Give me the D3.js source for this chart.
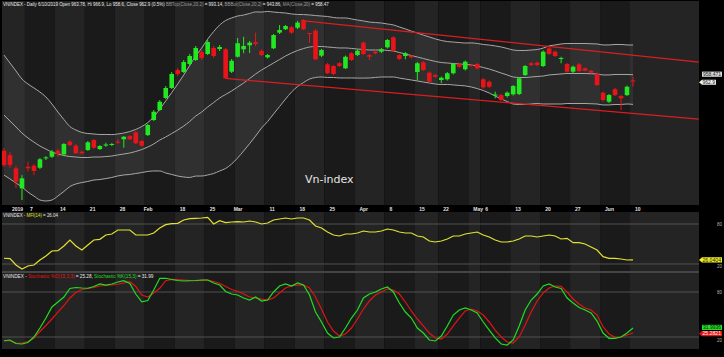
<!DOCTYPE html>
<html><head><meta charset="utf-8">
<script src="https://cdn.jsdelivr.net/npm/d3@7"></script>
<style>body{margin:0;background:#000}svg{display:block}</style>
</head><body><svg id="c" width="724" height="357"></svg>
<script>
const dates = ["2018-12-31","2019-01-02","2019-01-03","2019-01-04","2019-01-07","2019-01-08","2019-01-09","2019-01-10","2019-01-11","2019-01-14","2019-01-15","2019-01-16","2019-01-17","2019-01-18","2019-01-21","2019-01-22","2019-01-23","2019-01-24","2019-01-25","2019-01-28","2019-01-29","2019-01-30","2019-01-31","2019-02-01","2019-02-11","2019-02-12","2019-02-13","2019-02-14","2019-02-15","2019-02-18","2019-02-19","2019-02-20","2019-02-21","2019-02-22","2019-02-25","2019-02-26","2019-02-27","2019-02-28","2019-03-01","2019-03-04","2019-03-05","2019-03-06","2019-03-07","2019-03-08","2019-03-11","2019-03-12","2019-03-13","2019-03-14","2019-03-15","2019-03-18","2019-03-19","2019-03-20","2019-03-21","2019-03-22","2019-03-25","2019-03-26","2019-03-27","2019-03-28","2019-03-29","2019-04-01","2019-04-02","2019-04-03","2019-04-04","2019-04-05","2019-04-08","2019-04-09","2019-04-10","2019-04-11","2019-04-12","2019-04-16","2019-04-17","2019-04-18","2019-04-19","2019-04-22","2019-04-23","2019-04-24","2019-04-25","2019-04-26","2019-05-02","2019-05-03","2019-05-06","2019-05-07","2019-05-08","2019-05-09","2019-05-10","2019-05-13","2019-05-14","2019-05-15","2019-05-16","2019-05-17","2019-05-20","2019-05-21","2019-05-22","2019-05-23","2019-05-24","2019-05-27","2019-05-28","2019-05-29","2019-05-30","2019-05-31","2019-06-03","2019-06-04","2019-06-05","2019-06-06","2019-06-07","2019-06-10"];

const open = [905.4,901.8,890.8,874.2,892.1,893.0,891.3,899.1,900.4,905.4,
902.4,912.9,909.6,904.6,906.0,914.3,906.8,909.7,910.4,912.9,
914.9,917.6,920.7,913.5,918.4,930.9,939.2,949.2,957.5,972.4,
970.7,977.4,980.7,987.3,985.7,990.7,989.8,989.6,971.0,983.4,
989.6,992.9,995.4,988.2,982.9,990.4,1003.4,1006.2,1007.8,1007.5,
1013.9,1003.1,1005.0,984.3,977.1,975.7,978.0,973.8,986.3,984.8,
995.1,984.8,987.6,987.6,991.2,999.5,984.8,984.0,984.3,970.7,
978.8,970.2,968.2,964.1,964.7,969.7,977.4,973.0,976.5,977.4,
964.7,962.7,951.2,951.6,950.8,952.2,952.5,968.2,978.0,978.5,
975.7,990.4,987.6,981.8,977.4,971.0,977.1,973.8,971.8,969.1,
953.6,946.1,956.4,950.8,951.6,963.78];
const high = [907.7,904.3,892.7,885.2,896.3,894.4,899.4,901.0,906.0,906.8,
911.8,914.3,911.0,905.6,913.5,915.1,910.1,912.1,911.8,914.9,
917.6,918.4,921.8,914.3,927.6,939.2,947.5,959.1,970.7,974.1,
980.7,985.7,992.3,989.0,997.3,992.3,993.1,990.7,981.5,999.0,
1000.0,996.5,1003.4,989.8,985.7,1002.3,1009.7,1009.7,1008.9,1013.1,
1014.7,1003.3,1006.4,989.8,978.2,976.5,979.0,984.4,987.3,989.4,
996.1,985.7,988.6,990.7,998.1,1000.6,985.7,987.3,984.8,979.0,
979.9,971.2,969.1,967.0,970.7,978.2,978.2,980.3,977.4,978.2,
965.8,963.7,954.4,952.5,954.6,959.9,966.6,976.5,979.0,979.5,
988.6,991.5,988.6,983.4,978.2,976.1,978.2,974.5,972.4,970.3,
954.6,952.5,957.5,951.6,959.5,966.9];
const low = [891.9,891.1,874.5,864.5,888.0,885.2,890.2,897.7,899.4,900.4,
901.0,909.3,902.7,902.3,905.2,906.8,906.0,908.7,909.3,911.2,
907.9,914.3,911.0,908.5,917.6,930.1,938.4,948.3,956.6,967.4,
969.9,975.7,979.9,980.7,984.8,982.4,988.2,964.9,969.9,982.8,
986.3,986.5,992.3,984.0,981.9,989.8,1002.3,1005.6,1002.3,1006.4,
1005.6,994.8,980.7,983.2,969.1,968.2,974.9,973.2,979.9,984.0,
984.8,980.7,985.3,986.5,990.2,987.3,980.7,981.3,981.9,963.7,
971.6,961.6,965.8,961.4,963.7,968.7,974.1,972.0,974.9,972.8,
957.0,957.5,948.9,946.7,949.6,951.2,951.6,967.4,975.7,975.7,
974.9,984.8,983.2,978.0,970.2,969.9,970.7,971.2,969.5,959.1,
946.3,945.0,950.8,939.2,950.8,958.6];
const close = [893.5,893.5,879.7,882.5,890.8,888.6,898.3,899.9,904.6,902.7,
911.0,910.1,903.3,903.3,912.4,907.9,909.3,910.6,911.0,912.1,
917.0,914.9,911.6,909.6,926.7,937.8,946.1,957.5,969.1,969.1,
979.0,984.0,990.7,982.4,995.6,984.0,991.5,965.5,980.1,994.6,
992.3,995.1,994.0,984.8,984.8,1001.4,1005.6,1008.9,1003.4,1011.7,
1006.2,1002.3,981.3,989.0,969.7,969.1,975.7,983.4,980.7,988.4,
985.7,983.4,986.3,989.6,997.3,988.4,981.5,986.3,982.9,978.0,
972.4,962.7,966.8,966.0,969.7,977.4,975.1,979.3,975.7,973.8,
958.0,958.5,952.1,947.5,953.6,959.1,965.5,975.7,976.5,976.5,
987.6,985.7,984.0,982.4,971.0,975.1,971.6,971.8,970.2,959.9,
947.5,951.6,951.6,948.9,958.5,962.9];

const bbTop = [984.8,978.2,971.6,964.9,960.8,957.5,954.1,950.0,944.2,937.5,
931.3,925.5,922.6,920.6,919.7,919.3,918.9,918.9,918.8,919.3,
920.1,921.3,923.1,925.5,928.8,933.4,940.0,946.7,953.7,960.8,
968.2,976.2,984.0,990.6,998.1,1004.3,1009.8,1013.5,1015.6,1017.2,
1018.0,1019.3,1020.6,1020.5,1021.0,1020.5,1020.1,1019.7,1018.9,1018.5,
1018.4,1018.1,1017.6,1017.2,1016.8,1016.0,1015.6,1015.6,1014.8,1013.9,
1013.1,1012.2,1011.8,1011.4,1010.6,1009.8,1008.1,1006.5,1004.7,1003.1,
1001.4,999.8,998.2,996.9,996.0,995.6,995.2,994.8,994.9,994.4,
993.6,993.1,992.4,991.5,990.3,989.0,988.6,988.6,989.0,989.4,
990.6,992.4,993.2,994.0,994.4,994.4,994.4,994.4,994.2,994.0,
993.2,993.2,993.6,993.6,993.2,993.14];
const bbMid = [935.0,930.1,925.1,920.1,916.0,912.6,909.3,906.8,904.3,902.7,
901.4,900.6,900.2,899.8,899.8,900.2,900.2,900.6,901.0,901.9,
902.7,903.5,904.8,906.4,908.5,911.0,914.3,916.8,919.7,922.6,
925.9,929.7,934.2,937.5,941.7,945.4,949.2,952.1,955.0,958.3,
961.6,965.3,969.1,972.4,975.3,978.2,981.1,984.0,986.5,988.6,
990.2,991.5,991.9,991.9,991.5,991.1,990.7,990.7,990.3,989.8,
989.4,989.0,989.0,989.0,988.6,988.2,986.9,985.7,984.4,983.2,
981.9,980.7,979.5,978.6,978.2,977.8,977.4,977.0,976.6,975.7,
974.5,973.2,971.6,969.9,968.3,966.6,966.2,966.2,966.6,967.0,
967.4,968.3,968.7,969.1,969.5,969.5,969.5,969.5,969.3,969.1,
968.3,968.3,968.7,968.7,968.7,968.5];
const bbBot = [885.2,882.0,878.6,875.3,871.1,867.8,864.5,863.7,864.5,867.8,
871.6,875.7,877.8,879.0,879.9,881.1,881.5,882.3,883.2,884.5,
885.3,885.7,886.5,887.3,888.2,888.6,888.6,886.9,885.7,884.4,
883.6,883.2,884.4,884.4,885.3,886.5,888.6,890.7,894.4,899.4,
905.2,911.3,917.6,924.3,929.6,935.9,942.1,948.3,954.1,958.7,
962.0,964.9,966.2,966.6,966.2,966.2,965.8,965.8,965.8,965.7,
965.7,965.8,966.2,966.6,966.6,966.6,965.7,964.9,964.1,963.3,
962.4,961.6,960.8,960.3,960.4,960.0,959.6,959.2,958.3,957.0,
955.4,953.3,950.8,948.3,946.3,944.2,943.8,943.8,944.2,944.6,
944.2,944.2,944.2,944.2,944.6,944.6,944.6,944.6,944.4,944.2,
943.4,943.4,943.8,943.8,944.2,943.86];

const mfi = [28.6,28,18.5,12.5,17,18.5,26,32,39.5,40,
47,56,47,41,48.5,56,57,63.5,65,71,
71,71,63.5,63.5,63.5,66.5,74,79,80.5,81,
86,88,88.5,89,90,80,85,82,83,83.5,
83,84.5,83,80,81.5,86,87.5,89,87.5,89,
89,86,77,74,68,63.5,62,65,65,66.5,
69.5,68,68,69.5,72.5,71,68,66.5,66.5,62,
60.5,54.5,53,54.5,57.5,62,62,65,66.5,68,
63.5,60.5,56,53,53,54.5,57.5,62,62,60.5,
62,63.5,62,57.5,58.5,52,52,50,45.5,41,
31,28.5,28.5,27.5,26,26.04];

const stochK = [15,16,11.3,10.7,12.7,20,32,45.3,60,66.7,
73.3,84.7,86,85.3,85,87.3,90.7,89.3,90.7,93.3,
95,91.3,77.3,67,68.7,82.7,98.3,98.3,96.7,95.3,
94.7,95,95.3,96,96,92,89.3,80.7,77.3,76,
72,69.3,73.3,68,69.3,80,88,90.7,88,92,
89.3,76,53.3,40,25.3,18.7,20,32,45.3,56,
72,77.3,80,84,86.7,80,65.3,53.3,45.3,32,
25.3,16,14.7,21.3,34.7,49.3,56,58.7,56,52,
40,29.3,18.7,10.7,9.3,16,34.7,56,69.3,77.3,
88,90.7,86.7,84.7,72,65.3,59.3,56,52,41.3,
25.3,18.3,18.3,20,25.3,31.99];
const stochD = [15,15,11.6,12,14,18.7,27.3,35.3,44,53.3,
62,72,79.3,83.3,84.7,86,88,88.7,89.3,90.3,
92,93.7,87.3,76,73.3,78.7,85,95,96.7,96.4,
96,95.3,95,95.6,96,94,91.6,87.3,83.3,81,
77.3,73.3,72,70.7,69.3,72,78.7,85.3,88,89.3,
89.3,85.3,73.3,57.3,40,28,21.3,24,32,44,
57.3,68,76,80,84,82.7,77.3,66.7,54.7,44,
34.7,25.3,18.7,17.3,24,34.7,45.3,54.7,57.3,54.7,
49.3,40,29.3,20,13.3,12,20,36,53.3,68,
78.7,85.3,88,87.6,80,70.7,64,58.7,56,49.3,
33.7,24,19.6,20,22.7,25.28];

const tickLabels = [["2019-01-02","2019"],["2019-01-07","7"],["2019-01-14","14"],["2019-01-21","21"],["2019-01-28","28"],["2019-02-01","Feb"],["2019-02-18","18"],["2019-02-25","25"],["2019-03-01","Mar"],["2019-03-11","11"],["2019-03-18","18"],["2019-03-25","25"],["2019-04-01","Apr"],["2019-04-08","8"],["2019-04-16","15"],["2019-04-22","22"],["2019-05-02","May"],["2019-05-06","6"],["2019-05-13","13"],["2019-05-20","20"],["2019-05-27","27"],["2019-06-03","Jun"],["2019-06-10","10"]];

// channel lines: [start index, start price, end index (future), end price]
const channel = [[49.7, 1013.3, 116, 979.0], [37, 965.4, 116, 931.7]];
const mfiLevels = [80, 20];
const stochLevels = [80, 20];

const titleSegs = [["VNINDEX - Daily 6/10/2019 Open 963.78, Hi 966.9, Lo 958.6, Close 962.9 (0.5%)", "#e8e8e8"],
 ["BBTop(Close,20,2)", "#9a9a9a"], ["= 993.14,", "#e8e8e8"],
 ["BBBot(Close,20,2)", "#9a9a9a"], ["= 943.86,", "#e8e8e8"],
 ["MA(Close,20)", "#9a9a9a"], ["= 958.47", "#e8e8e8"]];
const mfiSegs = [["VNINDEX -", "#e8e8e8"], ["MFI(14)", "#e2e232"], ["= 26.04", "#e8e8e8"]];
const stochSegs = [["VNINDEX -", "#e8e8e8"], ["Stochastic %D(15,3,3)", "#e01414"], ["= 25.28,", "#e8e8e8"],
 ["Stochastic %K(15,3)", "#22dd22"], ["= 31.99", "#e8e8e8"]];

// ---------- drawing ----------
const svg = d3.select("#c");
const PL = 2, PR = 699;
const idx = new Map(dates.map((d, i) => [d, i]));
const x = d3.scaleLinear().domain([0, dates.length - 1]).range([4, 633]);
const y = d3.scaleLinear().domain([861.2, 1030.5]).range([204, 0]);
const yM = d3.scaleLinear().domain([0, 100]).range([277.33, 210.67]);
const yS = d3.scaleLinear().domain([0, 100]).range([352, 277]);

const panels = [{t: 1, b: 205}, {t: 212, b: 271}, {t: 273, b: 349}];
const defs = svg.append("defs");
panels.forEach((p, k) => {
  defs.append("clipPath").attr("id", "clip" + k).append("rect")
    .attr("x", PL).attr("y", p.t).attr("width", PR - PL).attr("height", p.b - p.t);
});

// week shading
const parse = d3.timeParse("%Y-%m-%d");
const weekStarts = [];
let prevWeek = null;
dates.forEach((d, i) => {
  const w = +d3.timeMonday.floor(parse(d));
  if (w !== prevWeek) { weekStarts.push(i); prevWeek = w; }
});
const weeks = weekStarts.map((s, k) => ({
  x0: k === 0 ? PL : x(s) - 3,
  x1: k === weekStarts.length - 1 ? PR : x(weekStarts[k + 1]) - 3,
  k
}));
panels.forEach(p => {
  svg.append("g").selectAll("rect").data(weeks).join("rect")
    .attr("x", d => d.x0).attr("y", p.t).attr("width", d => d.x1 - d.x0).attr("height", p.b - p.t)
    .attr("fill", d => d.k % 2 === 0 ? "#242424" : "#1a1a1a");
});
svg.append("line").attr("x1", PL).attr("x2", PR).attr("y1", 272).attr("y2", 272)
  .attr("stroke", "#8a8a8a").attr("stroke-width", 1);

// ---- main panel ----
const gMain = svg.append("g").attr("clip-path", "url(#clip0)");
const I = d3.range(dates.length);
gMain.append("path").datum(I)
  .attr("d", d3.area().x(i => x(i)).y0(i => y(bbBot[i])).y1(i => y(bbTop[i])).curve(d3.curveMonotoneX))
  .attr("fill", "rgba(255,255,255,0.06)");
[bbTop, bbMid, bbBot].forEach(arr => {
  gMain.append("path").datum(I)
    .attr("d", d3.line().x(i => x(i)).y(i => y(arr[i])).curve(d3.curveMonotoneX))
    .attr("fill", "none").attr("stroke", "#a8a8a8").attr("stroke-width", 1);
});
channel.forEach(c => {
  gMain.append("line").attr("x1", x(c[0])).attr("y1", y(c[1])).attr("x2", x(c[2])).attr("y2", y(c[3]))
    .attr("stroke", "#d81f1f").attr("stroke-width", 1.3);
});
const up = i => close[i] >= open[i];
const cg = gMain.append("g");
cg.selectAll("line").data(I).join("line")
  .attr("x1", i => x(i)).attr("x2", i => x(i))
  .attr("y1", i => y(high[i])).attr("y2", i => y(low[i]))
  .attr("stroke", i => up(i) ? "#22e822" : "#e8141a").attr("stroke-width", 1);
cg.selectAll("rect").data(I).join("rect")
  .attr("x", i => x(i) - 2.3).attr("width", 4.6)
  .attr("y", i => y(Math.max(open[i], close[i])))
  .attr("height", i => Math.max(1, Math.abs(y(open[i]) - y(close[i]))))
  .attr("fill", i => up(i) ? "#22e822" : "#e8141a");

svg.append("text").attr("x", 305).attr("y", 183).text("Vn-index")
  .attr("font-family", "DejaVu Sans").attr("font-size", 11).attr("fill", "#e6e6e6");

// segmented header texts laid out side by side (font scaled so natural width fits)
function segText(x0, yb, total, segs) {
  const g = svg.append("g");
  const gap = 1.2;
  const nodes = segs.map(s => g.append("text").attr("y", yb).text(s[0]).attr("fill", s[1])
    .attr("font-family", "Liberation Sans, Arial").attr("font-size", 5));
  const w0 = d3.sum(nodes, n => n.node().getComputedTextLength());
  const fs = 5 * (total - gap * (segs.length - 1)) / w0;
  nodes.forEach(n => n.attr("font-size", fs));
  let cx = x0;
  nodes.forEach(n => {
    n.attr("x", cx);
    cx += n.node().getComputedTextLength() + gap;
  });
}
segText(3, 5.8, 327, titleSegs);
segText(3, 216.5, 55, mfiSegs);
segText(3, 277.5, 151, stochSegs);

// date strip
svg.append("rect").attr("x", PL).attr("y", 205).attr("width", PR - PL).attr("height", 7).attr("fill", "#000");
svg.append("g").selectAll("text").data(tickLabels).join("text")
  .attr("x", d => x(idx.get(d[0])) + 2).attr("y", 210.8).text(d => d[1])
  .attr("font-family", "Liberation Sans, Arial").attr("font-size", 5).attr("font-weight", "bold").attr("fill", "#e0e0e0");

// ---- MFI ----
const gM = svg.append("g").attr("clip-path", "url(#clip1)");
mfiLevels.forEach(v => gM.append("line").attr("x1", PL).attr("x2", PR).attr("y1", yM(v)).attr("y2", yM(v))
  .attr("stroke", "#505050").attr("stroke-width", 1));
gM.append("path").datum(I).attr("d", d3.line().x(i => x(i)).y(i => yM(mfi[i])))
  .attr("fill", "none").attr("stroke", "#e2e232").attr("stroke-width", 1.2);

// ---- Stochastic ----
const gS = svg.append("g").attr("clip-path", "url(#clip2)");
stochLevels.forEach(v => gS.append("line").attr("x1", PL).attr("x2", PR).attr("y1", yS(v)).attr("y2", yS(v))
  .attr("stroke", "#505050").attr("stroke-width", 1));
gS.append("path").datum(I).attr("d", d3.line().x(i => x(i)).y(i => yS(stochD[i])))
  .attr("fill", "none").attr("stroke", "#e01414").attr("stroke-width", 1.2);
gS.append("path").datum(I).attr("d", d3.line().x(i => x(i)).y(i => yS(stochK[i])))
  .attr("fill", "none").attr("stroke", "#22dd22").attr("stroke-width", 1.2);

// right axis labels (the 20s sit just below the value boxes)
const axisLab = [[yM, 80, 2], [yM, 20, 4.2], [yS, 80, 2], [yS, 20, 5]];
svg.append("g").selectAll("text").data(axisLab).join("text")
  .attr("x", 717).attr("y", d => d[0](d[1]) + d[2]).text(d => d[1])
  .attr("font-family", "Liberation Sans, Arial").attr("font-size", 4.5).attr("fill", "#b0b0b0");

// value boxes
function valBox(yc, txt, bg, fg, arrow, x0, x1) {
  const g = svg.append("g");
  const h = 5.2;
  const p = arrow
    ? `M${x0},${yc} L${x0 + 3},${yc - h / 2} L${x1},${yc - h / 2} L${x1},${yc + h / 2} L${x0 + 3},${yc + h / 2} Z`
    : `M${x0},${yc - h / 2} L${x1},${yc - h / 2} L${x1},${yc + h / 2} L${x0},${yc + h / 2} Z`;
  g.append("path").attr("d", p).attr("fill", bg);
  g.append("text").attr("x", (arrow ? x0 + 3.5 : x0 + 1)).attr("y", yc + 1.7).text(txt)
    .attr("font-family", "Liberation Sans, Arial").attr("font-size", 4.5).attr("fill", fg)
    .attr("textLength", x1 - x0 - (arrow ? 4.5 : 2)).attr("lengthAdjust", "spacingAndGlyphs");
}
valBox(y(bbMid[bbMid.length - 1]) - 0.5, "958.471", "#d8d8d8", "#222", false, 702, 722);
valBox(y(close[close.length - 1]) + 0.8, "962.9", "#eeeeee", "#222", true, 699, 716);
valBox(yM(mfi[mfi.length - 1]), "26.0404", "#f0f020", "#222", true, 699, 722);
valBox(yS(stochK[stochK.length - 1]) - 0.6, "31.9936", "#22e022", "#111", false, 702, 722);
valBox(yS(stochD[stochD.length - 1]) + 0.6, "25.2821", "#e01414", "#fff", true, 699, 722);
</script></body></html>
